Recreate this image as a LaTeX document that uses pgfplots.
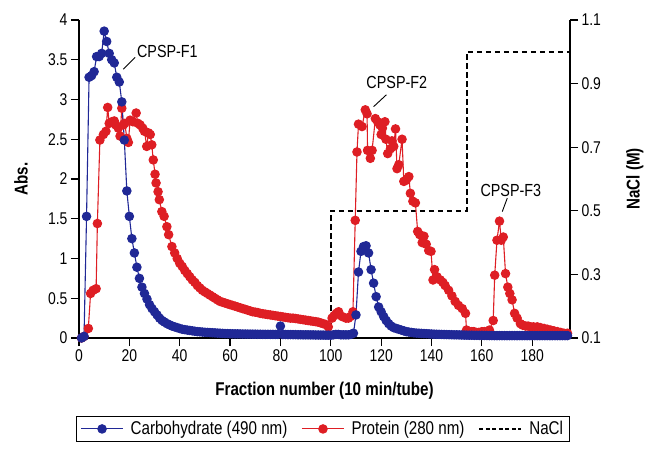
\documentclass[border=0pt]{standalone}
\usepackage{fontspec}
\setmainfont{Liberation Sans}[FakeStretch=0.82]
\usepackage{pgfplots}
\pgfplotsset{compat=1.18}
\definecolor{cblue}{RGB}{32,40,150}
\definecolor{cred}{RGB}{222,30,36}
\begin{document}
\begin{tikzpicture}
\pgfplotsset{
  common/.style={scale only axis, width=491pt, height=318pt, xmin=0, xmax=195,
    at={(0pt,0pt)}, anchor=south west,
    tick label style={font=\fontsize{17}{18}\selectfont},
    /pgf/number format/assume math mode=true,
    label style={font=\bfseries\fontsize{18.5}{20}\selectfont},
    axis line style={line width=1.2pt}, major tick style={line width=1.2pt, black},
    tick align=outside, major tick length=8pt},
  carbo/.style={cblue, line width=1.1pt, mark=*, mark size=4.2pt, mark options={solid, fill=cblue, draw=cblue}},
  prot/.style={cred, line width=1.1pt, mark=*, mark size=4.2pt, mark options={solid, fill=cred, draw=cred}},
  nacl/.style={black, line width=2.4pt, dash pattern=on 5.5pt off 3.5pt},
}
\begin{axis}[common, axis x line=none, axis y line*=right, ymin=0.1, ymax=1.1,
  ytick={0.1,0.3,0.5,0.7,0.9,1.1}, yticklabels={0.1,0.3,0.5,0.7,0.9,1.1},
  ylabel={NaCl (M)}, ylabel style={at={(axis description cs:1.132,0.5)}, anchor=center}]
\addplot[nacl] coordinates {(0,0.1)(100,0.1)(100,0.5)(154,0.5)(154,1.0)(195,1.0)};
\end{axis}
\begin{axis}[common, axis x line*=bottom, axis y line*=left, ymin=0, ymax=4,
  xtick={0,20,40,60,80,100,120,140,160,180},
  ytick={0,0.5,1,1.5,2,2.5,3,3.5,4}, yticklabels={0,0.5,1,1.5,2,2.5,3,3.5,4},
  xlabel={Fraction number (10 min/tube)}, ylabel={Abs.},
  xlabel style={at={(axis description cs:0.5,-0.167)}, anchor=center},
  ylabel style={at={(axis description cs:-0.118,0.5)}, anchor=center},
  clip=false, legend columns=3,
  legend style={at={(axis description cs:0.4965,-0.286)}, anchor=center, draw=black, line width=1pt,
    inner xsep=4pt, inner ysep=3pt,
    font=\fontsize{18.5}{20}\selectfont,
    /tikz/every odd column/.append style={column sep=5pt},
    /tikz/every even column/.append style={column sep=12pt}},
  legend image code/.code={\draw[mark repeat=2,mark phase=2] plot coordinates {(0pt,0pt) (21pt,0pt) (42pt,0pt)};}]
\addlegendimage{carbo}\addlegendentry{Carbohydrate (490 nm)}
\addlegendimage{prot}\addlegendentry{Protein (280 nm)}
\addlegendimage{nacl, dash pattern=on 4pt off 2.5pt, line width=1.8pt}\addlegendentry{NaCl}
% Protein
\addplot[prot, forget plot] coordinates {
(1,0)(2,0.02)(3.7,0.12)(4.6,0.56)(5.6,0.60)(6.8,0.62)(7.3,1.44)(8.3,2.49)(9.7,2.56)(10.7,2.60)
(11.4,2.90)(12,2.70)(13,2.72)(14,2.73)(14.6,2.68)(15.6,2.64)(16.3,2.54)(17,2.89)(17.6,2.68)(18.2,2.70)
(19,2.51)(19.6,2.46)(20.3,2.74)(21.4,2.72)(22.7,2.83)(23.4,2.70)(24.3,2.68)(25.3,2.64)(26,2.60)(26.9,2.41)
(27.6,2.58)(28.3,2.56)(28.9,2.43)(29.5,2.24)(30.2,2.06)(30.6,1.95)(31.4,1.84)(31.9,1.74)(32.9,1.59)(33.8,1.53)
(34.9,1.40)(35.6,1.30)(36.9,1.15)(38,1.07)(39,1.0)(40,0.94)(41,0.90)(42,0.85)(43,0.81)(44,0.77)
(45,0.73)(46,0.70)(47,0.66)(48,0.63)(49,0.60)(50,0.58)(51,0.56)(52,0.54)(53,0.52)(54,0.50)
(55,0.48)(56,0.46)(57,0.45)(58,0.44)(59,0.43)(60,0.42)(61,0.41)(62,0.40)(63,0.39)(64,0.38)
(65,0.37)(66,0.36)(67,0.35)(68,0.34)(69,0.33)(70,0.325)(71,0.32)(72,0.31)(73,0.305)(74,0.30)
(75,0.295)(76,0.29)(77,0.285)(78,0.28)(79,0.275)(80,0.27)(81,0.265)(82,0.26)(83,0.255)(84,0.25)
(85,0.25)(86,0.245)(87,0.24)(88,0.235)(89,0.23)(90,0.225)(91,0.22)(92,0.215)(93,0.21)(94,0.205)
(95,0.20)(96,0.19)(97,0.18)(98,0.17)(99,0.14)(100.5,0.25)(101.3,0.28)(102.2,0.31)(103.1,0.33)(104.5,0.27)
(106,0.25)(107,0.25)(107.8,0.27)(108.8,0.33)(109.7,1.48)(110.4,2.34)(111,2.69)(112.4,2.66)(113.7,2.87)(114.4,2.82)
(114.6,2.36)(115.7,2.26)(116.4,2.36)(117.7,2.76)(118.6,2.72)(119.5,2.68)(120,2.56)(120.5,2.64)(121.5,2.72)(121.9,2.50)
(122.6,2.32)(123.7,2.38)(124.3,2.48)(125,2.41)(125.7,2.63)(126.3,2.13)(127,2.18)(128.3,2.50)(129,1.97)(129.6,1.98)
(130.2,2.00)(131,2.03)(131.6,1.82)(132.6,1.72)(133.6,1.70)(134.5,1.34)(135.3,1.30)(136.3,1.20)(137,1.28)(137.9,1.18)
(138.9,1.10)(139.8,1.09)(140.6,0.73)(141.2,0.86)(142.2,0.77)(143.5,0.73)(144.5,0.70)(145.4,0.66)(146.8,0.60)(148.1,0.53)
(149.4,0.46)(150.7,0.41)(152.2,0.37)(153.5,0.31)(153.9,0.10)(155,0.08)(156,0.08)(156.8,0.08)(157.7,0.07)(158.7,0.07)
(160,0.08)(161,0.08)(162.1,0.08)(163,0.10)(164.5,0.22)(165.1,0.79)(166,1.23)(167,1.47)(167.7,1.23)(168.5,1.27)
(169.4,0.81)(170.3,0.64)(171.1,0.56)(172,0.48)(173,0.31)(174,0.25)(175.3,0.18)(176.3,0.16)(177.4,0.15)(178.4,0.15)
(179.4,0.14)(180.5,0.14)(182,0.14)(183.3,0.13)(184.7,0.12)(186,0.11)(187.3,0.10)(188.6,0.09)(190,0.08)(191.3,0.07)
(192.6,0.06)(194,0.06)
};
% Carbohydrate
\addplot[carbo, forget plot] coordinates {
(1,0)(2,0.02)(3,1.53)(4,3.28)(5,3.30)(6,3.35)(7,3.54)(8,3.54)(9,3.58)(10,3.86)
(11,3.73)(12,3.58)(13,3.50)(14,3.46)(15,3.28)(16,3.22)(17,2.97)(18,2.49)(19,1.85)(20,1.53)
(21,1.25)(22,1.07)(23,0.89)(24,0.75)(25,0.64)(26,0.56)(27,0.49)(28,0.42)(29,0.37)(30,0.33)
(31,0.29)(32,0.25)(33,0.22)(34,0.20)(35,0.18)(36,0.165)(37,0.15)(38,0.14)(39,0.13)(40,0.12)
(41,0.11)(42,0.105)(43,0.10)(44,0.095)(45,0.09)(46,0.085)(47,0.08)(48,0.078)(49,0.075)(50,0.072)
(51,0.07)(52,0.068)(53,0.066)(54,0.064)(55,0.062)(56,0.06)(57,0.058)(58,0.056)(59,0.055)(60,0.054)
(61,0.053)(62,0.052)(63,0.052)(64,0.051)(65,0.05)(66,0.05)(67,0.049)(68,0.049)(69,0.048)(70,0.048)
(71,0.047)(72,0.047)(73,0.046)(74,0.046)(75,0.046)(76,0.045)(77,0.045)(78,0.045)(79,0.045)(80,0.15)
(81,0.044)(82,0.044)(83,0.043)(84,0.043)(85,0.042)(86,0.042)(87,0.041)(88,0.041)(89,0.04)(90,0.04)
(91,0.04)(92,0.039)(93,0.039)(94,0.038)(95,0.038)(96,0.037)(97,0.037)(98,0.036)(99,0.036)(100,0.035)
(101,0.04)(102,0.045)(103,0.045)(104,0.04)(105,0.04)(106,0.04)(107,0.04)(108,0.045)(109,0.06)(110,0.29)
(111,0.83)(112,1.09)(113,1.15)(114,1.16)(115,1.07)(116,0.86)(117,0.69)(118,0.52)(119,0.39)(120,0.33)
(121,0.27)(122,0.22)(123,0.18)(124,0.15)(125,0.13)(126,0.12)(127,0.11)(128,0.10)(129,0.09)(130,0.08)
(131,0.075)(132,0.07)(133,0.065)(134,0.062)(135,0.06)(136,0.058)(137,0.056)(138,0.054)(139,0.052)(140,0.05)
(141,0.048)(142,0.047)(143,0.046)(144,0.045)(145,0.044)(146,0.043)(147,0.042)(148,0.041)(149,0.04)(150,0.04)
(151,0.039)(152,0.038)(153,0.037)(154,0.036)(155,0.035)(156,0.035)(157,0.034)(158,0.034)(159,0.033)(160,0.033)
(161,0.032)(162,0.032)(163,0.031)(164,0.031)(165,0.03)(166,0.03)(167,0.03)(168,0.03)(169,0.03)(170,0.03)
(171,0.03)(172,0.03)(173,0.03)(174,0.03)(175,0.03)(176,0.03)(177,0.03)(178,0.03)(179,0.03)(180,0.03)
(181,0.03)(182,0.03)(183,0.03)(184,0.03)(185,0.03)(186,0.03)(187,0.03)(188,0.03)(189,0.03)(190,0.03)
(191,0.03)(192,0.03)(193,0.03)(194,0.03)
};
\node[anchor=west, font=\fontsize{17.5}{19}\selectfont, inner sep=0pt] at (axis cs:23,3.6) {CPSP-F1};
\draw[line width=0.9pt] (axis cs:17.6,3.38) -- (axis cs:22.3,3.53);
\node[anchor=west, font=\fontsize{17.5}{19}\selectfont, inner sep=0pt] at (axis cs:114.1,3.21) {CPSP-F2};
\draw[line width=0.9pt] (axis cs:117.0,2.91) -- (axis cs:122.1,3.06);
\node[anchor=west, font=\fontsize{17.5}{19}\selectfont, inner sep=0pt] at (axis cs:159.4,1.86) {CPSP-F3};
\draw[line width=0.9pt] (axis cs:168.1,1.59) -- (axis cs:170.1,1.76);
\end{axis}
\pgfresetboundingbox
\path[use as bounding box] (-79pt,-120pt) rectangle (577pt,338pt);
\end{tikzpicture}
\end{document}
